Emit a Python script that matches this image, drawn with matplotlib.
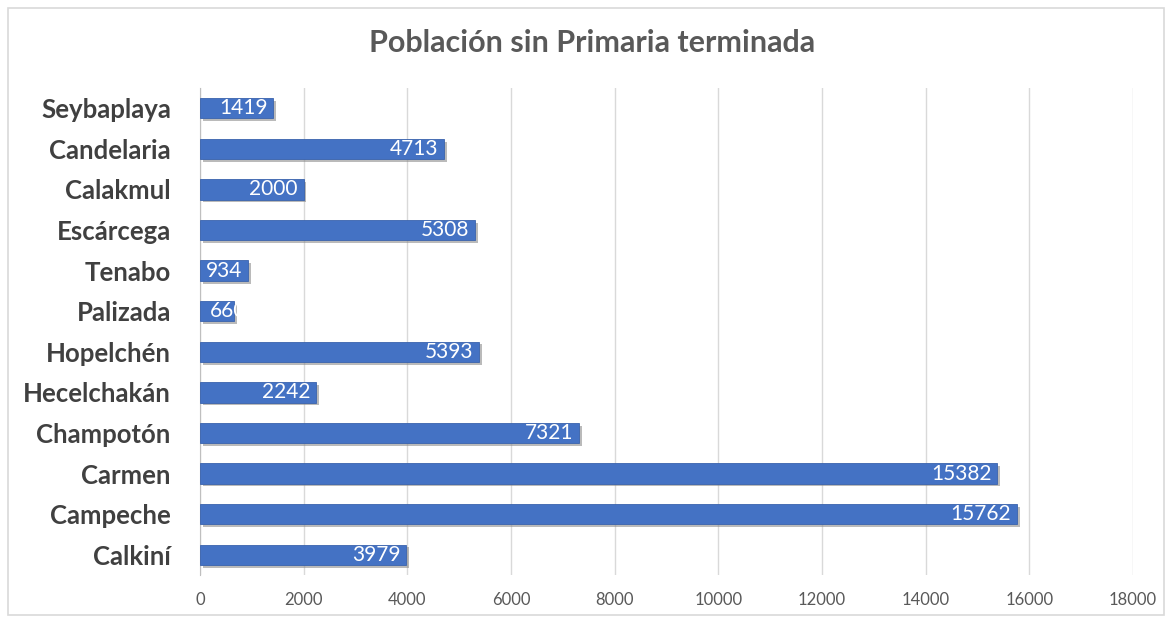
import matplotlib.pyplot as plt
import matplotlib.patheffects as pe
from matplotlib.patches import Rectangle
from matplotlib.transforms import Bbox, TransformedBbox

# Municipios (bottom to top) y valores
municipios = ['Calkiní', 'Campeche', 'Carmen', 'Champotón', 'Hecelchakán', 'Hopelchén',
              'Palizada', 'Tenabo', 'Escárcega', 'Calakmul', 'Candelaria', 'Seybaplaya']
valores = [3979, 15762, 15382, 7321, 2242, 5393, 660, 934, 5308, 2000, 4713, 1419]
etiquetas = ['3979', '15762', '15382', '7321', '2242', '5393', '660', '934', '5308', '2000', '4713', '1419']
ticks_x = list(range(0, 18001, 2000))

plt.rcParams['font.family'] = ['Lato', 'DejaVu Sans']

fig = plt.figure(figsize=(11.72, 6.19), dpi=100)
ax = fig.add_axes([0.1706, 0.0711, 0.7961, 0.7867])

# borde del grafico
fig.patches.append(Rectangle((0.007, 0.007), 0.986, 0.98, transform=fig.transFigure,
                             fill=False, edgecolor='#d9d9d9', linewidth=1.2))

bars = ax.barh(range(len(municipios)), valores, height=0.5, color='#4472c4',
               edgecolor='#3a63ad', linewidth=0.6, zorder=3,
               path_effects=[pe.SimplePatchShadow(offset=(2, -2), shadow_rgbFace='#8c8c8c', alpha=0.6),
                             pe.Normal()])

for b, lab in zip(bars, etiquetas):
    w = b.get_width()
    y = b.get_y() + b.get_height() / 2
    if w < 800:
        # etiqueta mas ancha que la barra: se recorta al final de la barra
        t = ax.text(b.get_x() + 190, y, lab, ha='left', va='center', color='white',
                    fontsize=15, zorder=4)
        t.set_clip_box(TransformedBbox(Bbox([[0, b.get_y()], [w, b.get_y() + b.get_height()]]),
                                       ax.transData))
    else:
        ax.text(w - 110, y, lab, ha='right', va='center', color='white',
                fontsize=15, zorder=4)

ax.set_xlim(0, 18000)
ax.set_ylim(-0.5, len(municipios) - 0.5)
ax.set_xticks(ticks_x)
ax.set_xticklabels([str(t) for t in ticks_x], color='#595959', fontsize=12)
ax.set_yticks(range(len(municipios)))
ax.set_yticklabels(municipios, fontsize=18.5, fontweight='bold', color='#404040')
ax.tick_params(axis='both', length=0, pad=12)
ax.tick_params(axis='y', pad=21)
ax.grid(axis='x', color='#d9d9d9', linewidth=1, zorder=0)
for s in ['top', 'right', 'bottom']:
    ax.spines[s].set_visible(False)
ax.spines['left'].set_color('#bfbfbf')

fig.text(0.505, 0.93, 'Población sin Primaria terminada', ha='center', va='center',
         fontsize=22, fontweight='bold', color='#595959')

fig.savefig('out.png', dpi=100)
